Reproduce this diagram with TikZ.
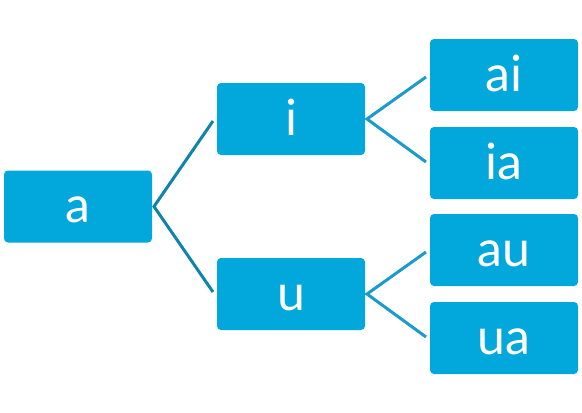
\documentclass[tikz,border=0pt]{standalone}
\usepackage{fontspec}
\setmainfont{Lato}
\definecolor{boxblue}{HTML}{02A7DB}
\definecolor{linedark}{HTML}{0E84AC}
\definecolor{linelight}{HTML}{1A9BCB}
\begin{document}
\begin{tikzpicture}[x=1pt,y=-1pt,
  box/.style={draw=none,fill=boxblue,rounded corners=4pt,minimum width=148pt,minimum height=72pt,
    text=white,font=\fontsize{50}{54}\selectfont,text height=32pt,text depth=0pt,inner sep=0pt},
  conn1/.style={draw=linedark,line width=3pt},
  conn2/.style={draw=linelight,line width=3pt}]
\useasboundingbox (0,0) rectangle (582,413);
\node[box] (a) at (78,206.5) {a};
\node[box] (i) at (291,119) {i};
\node[box] (u) at (291,294) {u};
\node[box] (ai) at (504,75) {ai};
\node[box] (ia) at (504,163) {ia};
\node[box] (au) at (504,250) {au};
\node[box] (ua) at (504,338) {ua};
\coordinate (aR) at (154,206.5);
\coordinate (iL) at (213,121);
\coordinate (uL) at (213,292);
\coordinate (iR) at (367,119);
\coordinate (uR) at (367,294);
\coordinate (aiL) at (426,77);
\coordinate (iaL) at (426,162);
\coordinate (auL) at (426,252);
\coordinate (uaL) at (426,337);
\draw[conn1] (iL) -- (aR) -- (uL);
\draw[conn2] (aiL) -- (iR) -- (iaL);
\draw[conn2] (auL) -- (uR) -- (uaL);
\end{tikzpicture}
\end{document}
